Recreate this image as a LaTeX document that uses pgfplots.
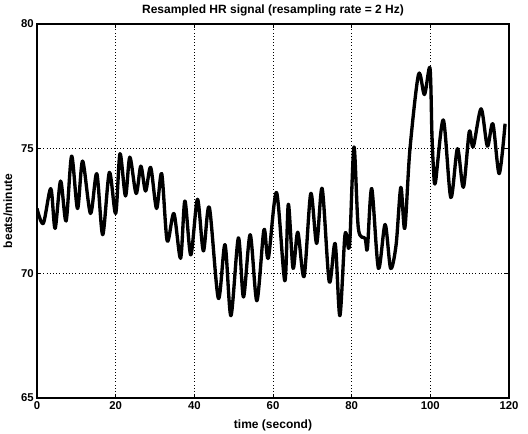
\documentclass[border=0pt]{standalone}
\usepackage{fontspec}
\setmainfont{Liberation Sans}
\usepackage{pgfplots}
\pgfplotsset{compat=1.18}
\usetikzlibrary{calc}
\begin{document}
\begin{tikzpicture}
\begin{axis}[
  scale only axis,
  width=354pt, height=280.5pt,
  xmin=0, xmax=120, ymin=65, ymax=80,
  xtick={0,20,...,120}, ytick={65,70,75,80},
  grid=major,
  major grid style={black, dotted, line width=0.7pt},
  axis line style={black, line width=1.3pt},
  tick style={black, line width=0.7pt},
  tick align=inside,
  major tick length=3pt,
  /pgf/number format/assume math mode=true,
  tick label style={font=\fontsize{8.5}{10}\selectfont\bfseries},
  every axis title shift=0pt,
  title={Resampled HR signal (resampling rate = 2 Hz)},
  title style={font=\fontsize{9}{10}\selectfont\bfseries, at={(axis description cs:0.5,1.0374)}, anchor=center},
  xlabel={time (second)},
  ylabel={beats/minute},
  label style={font=\fontsize{9}{10}\selectfont\bfseries},
  xlabel style={at={(axis description cs:0.5,-0.0722)}, anchor=center},
  ylabel style={at={(axis description cs:-0.0614,0.5)}, anchor=center},
  xticklabel style={yshift=1pt},
  yticklabel style={xshift=1pt},
]
\addplot[black, line width=2.5pt, smooth, tension=0.5, line join=round] coordinates {
(0,72.6) (1.6,72.0) (3.5,73.4) (4.6,71.8) (6.0,73.7) (7.4,72.1) (8.8,74.7)
(10.3,72.6) (11.6,74.5) (13.6,72.4) (15.2,74.0) (16.7,71.55) (18.4,74.05)
(20.0,72.4) (21.1,74.8) (22.5,73.1) (23.6,74.66) (25.2,73.2) (26.4,74.3)
(27.6,73.3) (28.9,74.25) (30.4,72.6) (31.7,74.0) (33.1,71.3) (34.8,72.4)
(36.5,70.6) (37.6,72.9) (39.1,70.74) (40.8,72.97) (42.3,70.9) (43.8,72.66)
(46.1,69.0) (47.8,71.15) (49.3,68.3) (51.2,71.42) (52.5,69.05) (54.2,71.55)
(55.9,68.9) (57.7,71.75) (58.8,70.6) (60.9,73.24) (63.0,69.7) (63.9,72.77)
(65.1,70.2) (66.3,71.65) (67.9,69.87) (69.6,73.2) (71.1,71.2) (72.5,73.4)
(74.3,69.66) (75.8,71.2) (77.0,68.3) (78.3,71.55) (79.2,71.0) (79.6,71.5)
(80.6,75.07) (81.7,71.8) (83.4,71.4) (84.0,71.0) (85.1,73.4) (86.8,70.2)
(88.5,71.96) (89.9,70.2) (91.3,71.15) (92.5,73.45) (93.5,71.8) (94.8,74.95)
(97.0,77.98) (98.5,77.17) (99.9,78.24) (100.4,75.6) (100.8,74.2) (101.3,73.65)
(103.3,76.15) (105.2,73.04) (106.9,75.0) (108.4,73.45) (109.9,75.68)
(110.9,75.07) (112.9,76.6) (114.5,75.1) (115.9,76.0) (117.5,74.0) (119.0,76.0)
};
\end{axis}
\pgfresetboundingbox
\path ($(current axis.south west)+(-27.75pt,-27pt)$) rectangle ($(current axis.north east)+(14.25pt,18pt)$);
\end{tikzpicture}
\end{document}
